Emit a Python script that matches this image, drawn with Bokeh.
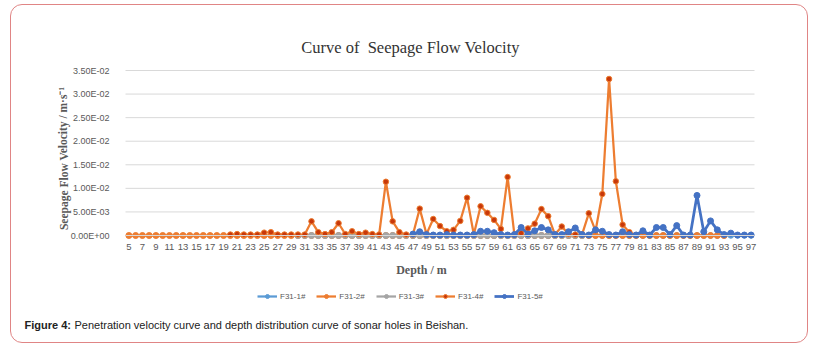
from bokeh.plotting import figure
from bokeh.models import Range1d, FixedTicker, Label, Legend, LegendItem
from bokeh.embed import file_html
from bokeh.resources import INLINE

# ---------------- data ----------------
depth = list(range(5, 98))

series_names = ["F31-1#", "F31-2#", "F31-3#", "F31-4#", "F31-5#"]

# F31-1# : zeros (hidden under other series), depths 47..97
f311_depth = list(range(47, 98))
f311_vals = [0.0] * len(f311_depth)

# F31-2# : zeros, depths 5..93
f312_depth = list(range(5, 94))
f312_vals = [0.0] * len(f312_depth)

# F31-3# : zeros, depths 30..72
f313_depth = list(range(30, 73))
f313_vals = [0.0] * len(f313_depth)

# F31-4# : depths 20..80
f314_depth = list(range(20, 81))
f314_vals = [
    0.0002, 0.0003, 0.0002, 0.0002, 0.0002, 0.0006, 0.0007, 0.0002, 0.0002, 0.0002,  # 20-29
    0.0002, 0.0002, 0.0030, 0.0007, 0.0003, 0.0007, 0.0026, 0.0003, 0.0009, 0.0003,  # 30-39
    0.0006, 0.0003, 0.0002, 0.0114, 0.0030, 0.0007, 0.0002, 0.0002, 0.0057, 0.0003,  # 40-49
    0.0035, 0.0020, 0.0009, 0.0012, 0.0031, 0.0080, 0.0002, 0.0062, 0.0048, 0.0033,  # 50-59
    0.0014, 0.0124, 0.0002, 0.0005, 0.0015, 0.0025, 0.0056, 0.0041, 0.0002, 0.0019,  # 60-69
    0.0003, 0.0002, 0.0002, 0.0047, 0.0010, 0.0088, 0.0332, 0.0115, 0.0023, 0.0007,  # 70-79
    0.0001,                                                                           # 80
]

# F31-5# : depths 47..97
f315_depth = list(range(47, 98))
f315_vals = [
    0.0003, 0.0008, 0.0002, 0.0001, 0.0001, 0.0002, 0.0001, 0.0001, 0.0001, 0.0002,  # 47-56
    0.0009, 0.0009, 0.0006, 0.0002, 0.0001, 0.0002, 0.0017, 0.0003, 0.0010, 0.0017,  # 57-66
    0.0012, 0.0002, 0.0002, 0.0008, 0.0016, 0.0002, 0.0001, 0.0012, 0.0009, 0.0002,  # 67-76
    0.0001, 0.0008, 0.0002, 0.0001, 0.0010, 0.0001, 0.0017, 0.0017, 0.0002, 0.0021,  # 77-86
    0.0001, 0.0001, 0.0085, 0.0008, 0.0031, 0.0012, 0.0002, 0.0005, 0.0001, 0.0001,  # 87-96
    0.0001,                                                                           # 97
]

x_tick_values = list(range(5, 98, 2))
y_tick_values = [0.0, 0.005, 0.010, 0.015, 0.020, 0.025, 0.030, 0.035]
y_tick_labels = ["0.00E+00", "5.00E-03", "1.00E-02", "1.50E-02", "2.00E-02",
                 "2.50E-02", "3.00E-02", "3.50E-02"]

title_text = "Curve of\u00a0 Seepage Flow Velocity"
y_label_text = "Seepage Flow Velocity / m\u00b7s\u207b\u00b9"
x_label_text = "Depth / m"
caption_bold = "Figure 4:"
caption_text = "Penetration velocity curve and depth distribution curve of sonar holes in Beishan."

# ---------------- layout (page pixels) ----------------
OX, OY = 11, 5               # canvas origin on the page (inside the rounded border)
W, H = 798, 339              # canvas size; the frame fills the whole canvas
X0, X1 = 4.5, 97.5           # category band edges
Y0, Y1 = 0.0, 0.035
PX0, PX1 = 125, 754          # page x of X0 / X1
PY0, PY1 = 235, 70           # page y of Y0 / Y1

kx = (PX1 - PX0) / (X1 - X0)
ky = (PY0 - PY1) / (Y1 - Y0)
x_start = X0 - (PX0 - OX) / kx
x_end = X1 + (OX + W - PX1) / kx
y_end = Y1 + (PY1 - OY) / ky
y_start = Y0 - (OY + H - PY0) / ky

def cx(v):
    return v - OX

def cy(v):
    return v - OY

p = figure(width=W, height=H, output_backend="svg", toolbar_location=None,
           x_range=Range1d(x_start, x_end), y_range=Range1d(y_start, y_end),
           min_border=0)
p.title = None
p.outline_line_color = None
p.background_fill_color = None
p.border_fill_color = None
p.styles = {"border": "1px solid #E08585", "border-radius": "12px",
            "margin-left": "10px", "margin-top": "4px"}

p.xgrid.grid_line_color = None
p.ygrid.grid_line_color = None

# horizontal gridlines across the category band only
p.segment(x0=[X0] * len(y_tick_values), y0=y_tick_values,
          x1=[X1] * len(y_tick_values), y1=y_tick_values,
          line_color="#d9d9d9", line_width=1)

p.xaxis.fixed_location = 0.0
p.xaxis.bounds = (X0, X1)
p.xaxis.ticker = FixedTicker(ticks=x_tick_values)
p.xaxis.axis_line_color = "#d9d9d9"
p.xaxis.major_tick_line_color = None
p.xaxis.minor_tick_line_color = None
p.xaxis.major_label_text_font = "Liberation Sans"
p.xaxis.major_label_text_font_size = "9.5px"
p.xaxis.major_label_text_color = "#595959"
p.xaxis.major_label_standoff = 2

p.yaxis.fixed_location = X0
p.yaxis.bounds = (Y0, Y1)
p.yaxis.ticker = FixedTicker(ticks=y_tick_values)
p.yaxis.major_label_overrides = {v: s for v, s in zip(y_tick_values, y_tick_labels)}
p.yaxis.axis_line_color = None
p.yaxis.major_tick_line_color = None
p.yaxis.minor_tick_line_color = None
p.yaxis.major_label_text_font = "Liberation Sans"
p.yaxis.major_label_text_font_size = "9px"
p.yaxis.major_label_text_color = "#595959"
p.yaxis.major_label_standoff = 10

c1, c2, c3, c4, c5 = "#5B9BD5", "#ED7D31", "#A5A5A5", "#ED7D31", "#4472C4"
m4 = "#C8380A"

items = []
def add(xs, ys, color, mfill, lw, ms, name):
    lr = p.line(xs, ys, line_color=color, line_width=lw)
    sr = p.scatter(xs, ys, size=ms, fill_color=mfill, line_color=color, line_width=1)
    items.append(LegendItem(label=name, renderers=[lr, sr]))

add(f311_depth, f311_vals, c1, c1, 2.25, 5.5, series_names[0])
add(f312_depth, f312_vals, c2, c2, 2.25, 6, series_names[1])
add(f313_depth, f313_vals, c3, c3, 2.25, 6, series_names[2])
add(f314_depth, f314_vals, c4, m4, 2.25, 5.5, series_names[3])
add(f315_depth, f315_vals, c5, c5, 2.75, 6, series_names[4])

legend = Legend(items=items, orientation="horizontal", location=(cx(257), OY + H - 302),
                label_text_font="Liberation Sans", label_text_font_size="8px",
                label_text_color="#595959", glyph_width=20, glyph_height=10,
                label_height=12, label_standoff=3, spacing=11, padding=0, margin=0,
                border_line_color=None, background_fill_alpha=0)
p.add_layout(legend)

def lab(x, y, text, size, font="Liberation Serif", style="normal", color="#595959",
        align="center", angle=0.0):
    return Label(x=cx(x), y=cy(y), x_units="canvas", y_units="canvas", text=text,
                 angle=angle, text_font=font, text_font_size=size, text_font_style=style,
                 text_color=color, text_align=align, text_baseline="middle")

p.add_layout(lab(409, 46, title_text, "16.5px", color="#333333"))
p.add_layout(lab(62, 157, y_label_text, "11.5px", style="bold", angle=1.5708))
p.add_layout(lab(420, 268, x_label_text, "12px", style="bold"))
p.add_layout(lab(23, 323, caption_bold, "11px", font="Liberation Sans", style="bold",
                 color="#222222", align="left"))
p.add_layout(lab(73, 323, caption_text, "11px", font="Liberation Sans",
                 color="#222222", align="left"))

open("out.html", "w").write(file_html(p, INLINE))
